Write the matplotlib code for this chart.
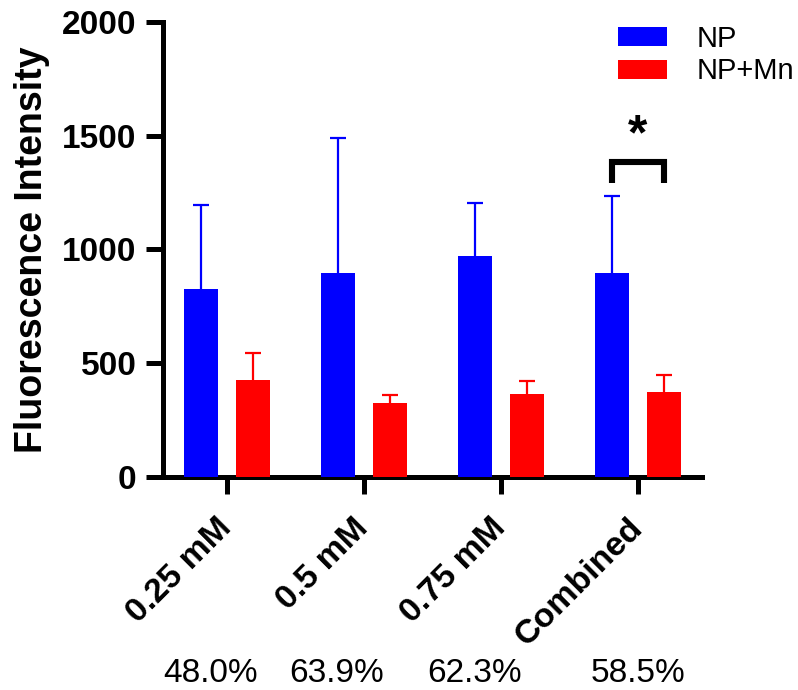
import numpy as np
import matplotlib
matplotlib.use("Agg")
import matplotlib.pyplot as plt
import matplotlib.transforms as mtransforms

# data
categories = ["0.25 mM", "0.5 mM", "0.75 mM", "Combined"]
np_mean = [828, 898, 972, 898]
np_err = [367, 592, 230, 336]
npmn_mean = [427, 325, 364, 374]
npmn_err = [120, 36, 57, 75]
series_labels = ["NP", "NP+Mn"]
percent_labels = ["48.0%", "63.9%", "62.3%", "58.5%"]
yticks = [0, 500, 1000, 1500, 2000]

# layout
percent_x = [-0.12, -0.20, -0.19, 0.0]
offset = 0.19
barWidth = 0.25
plt.rcParams['font.family'] = ['Liberation Sans', 'DejaVu Sans']

fig = plt.figure(figsize=(7.98, 6.9), dpi=100)
ax = fig.add_axes([0.2043, 0.3083, 0.8797 - 0.2043, 0.9686 - 0.3083])

x = np.arange(len(categories))
colorList = ["#0000FF", "#FF0000"]
means = [np_mean, npmn_mean]
errs = [np_err, npmn_err]
bars = []
for i, sign in enumerate([-1, 1]):
  xs = x + sign * offset
  b = ax.bar(xs, means[i], width=barWidth, color=colorList[i], zorder=3, label=series_labels[i])
  bars.append(b)
  tops = np.array(means[i]) + np.array(errs[i])
  # upper error only: a stem and a cap at the top
  ax.vlines(xs, means[i], tops, color=colorList[i], lw=1.6, zorder=2)
  ax.plot(xs, tops, ls='none', marker='_', ms=11.5, mew=1.6, color=colorList[i], zorder=2)

# axes styling
ax.set_xlim(-0.465, 3.467)
ax.set_ylim(0, 2000)
for side in ['top', 'right']:
  ax.spines[side].set_visible(False)
for side in ['left', 'bottom']:
  ax.spines[side].set_linewidth(3.6)
ax.set_yticks(yticks)
ax.set_yticklabels([str(v) for v in yticks], fontsize=24, fontweight='bold')
ax.set_xticks(x)
ax.set_xticklabels(categories, fontsize=24.5, fontweight='bold', rotation=45,
                   ha='right', va='center', rotation_mode='anchor')
ax.tick_params(axis='both', length=12, width=3.6, direction='out')
ax.tick_params(axis='y', pad=7)
ax.tick_params(axis='x', pad=21)
ax.set_ylabel("Fluorescence Intensity", fontsize=27, fontweight='bold', labelpad=9)

# significance bracket
bx0 = x[3] - offset
bx1 = x[3] + offset
ax.plot([bx0, bx0, bx1, bx1], [1290, 1385, 1385, 1290], color='black', lw=4.4,
        solid_joinstyle='miter', solid_capstyle='butt', clip_on=False, zorder=4)
ax.text(x[3], 1495, "*", ha='center', va='center', fontsize=36, fontweight='bold')

# percentages under the labels
trans = mtransforms.blended_transform_factory(ax.transData, fig.transFigure)
for i, lab in enumerate(percent_labels):
  ax.text(x[i] + percent_x[i], 1 - 674 / 690, lab, transform=trans, ha='center', va='center', fontsize=24)

ax.legend(handles=bars, loc='upper left', bbox_to_anchor=(618 / 798, 1 - 25 / 690),
          bbox_transform=fig.transFigure, frameon=False, fontsize=21, borderpad=0,
          borderaxespad=0, handlelength=1.68, handleheight=0.62, handletextpad=1.0,
          labelspacing=0.15)

fig.savefig("out.png", dpi=100)
